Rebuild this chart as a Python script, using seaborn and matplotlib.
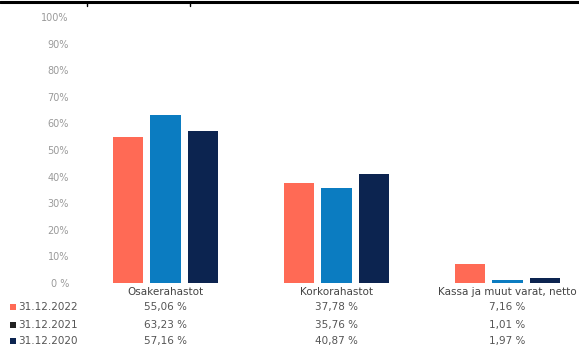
import seaborn as sns
import numpy as np
import pandas as pd
import matplotlib.pyplot as plt
from matplotlib.lines import Line2D
from matplotlib.patches import Rectangle
import matplotlib.transforms as mtransforms

# Data
categories = ["Osakerahastot", "Korkorahastot", "Kassa ja muut varat, netto"]
periods = ["31.12.2022", "31.12.2021", "31.12.2020"]
values_2022 = [55.06, 37.78, 7.16]
values_2021 = [63.23, 35.76, 1.01]
values_2020 = [57.16, 40.87, 1.97]
y_ticks = [0, 10, 20, 30, 40, 50, 60, 70, 80, 90, 100]
y_tick_labels = ["0 %", "10%", "20%", "30%", "40%", "50%", "60%", "70%", "80%", "90%", "100%"]

bar_colors = ["#ff6a55", "#0b7cc1", "#0c2450"]
legend_colors = ["#ff6a55", "#222222", "#0c2450"]

all_values = [values_2022, values_2021, values_2020]
rows = []
for period, vals in zip(periods, all_values):
    for cat, v in zip(categories, vals):
        rows.append({"category": cat, "period": period, "value": v})
df = pd.DataFrame(rows)

sns.set_style("white")
plt.rcParams["font.family"] = ["DejaVu Sans"]

fig = plt.figure(figsize=(5.79, 3.48), dpi=100)
ax = fig.add_axes([80 / 579, (348 - 283) / 348, 499 / 579, 266 / 348])

sns.barplot(data=df, x="category", y="value", hue="period", order=categories,
            hue_order=periods, palette=bar_colors, width=0.66, gap=0.2,
            saturation=1, linewidth=0, ax=ax)
ax.get_legend().remove()

ax.set_xlim(-0.5, -0.5 + 499 / 171)
ax.set_ylim(0, 100)
ax.set_yticks(y_ticks)
ax.set_yticklabels(y_tick_labels, fontsize=7, color="#9a9a9a")
ax.tick_params(axis="y", length=0, pad=8)
ax.tick_params(axis="x", length=0, pad=3)
ax.set_xticks(range(len(categories)))
ax.set_xticklabels(categories, fontsize=7.5, color="#444444")
ax.set_xlabel("")
ax.set_ylabel("")
for s in ax.spines.values():
    s.set_visible(False)

# table below chart
trans = mtransforms.blended_transform_factory(ax.transData, fig.transFigure)
row_y = [307, 325, 341]
for r, (period, vals) in enumerate(zip(periods, all_values)):
    yf = 1 - row_y[r] / 348
    for i, v in enumerate(vals):
        txt = f"{v:.2f}".replace(".", ",") + " %"
        ax.text(i, yf, txt, transform=trans, ha="center", va="center",
                fontsize=7.5, color="#555555")
    fig.text(18 / 579, yf, period, ha="left", va="center", fontsize=7.5, color="#555555")
    fig.add_artist(Rectangle((10 / 579, yf - 3 / 348), 6 / 579, 6 / 348,
                             transform=fig.transFigure, color=legend_colors[r], lw=0))

# top border line from page
fig.add_artist(Line2D([0, 1], [1 - 2 / 348, 1 - 2 / 348], transform=fig.transFigure,
                      color="black", lw=2.2))
for xp in [87, 190]:
    fig.add_artist(Line2D([xp / 579, xp / 579], [1 - 2 / 348, 1 - 6 / 348],
                          transform=fig.transFigure, color="black", lw=1))

fig.savefig("out.png", dpi=100)
